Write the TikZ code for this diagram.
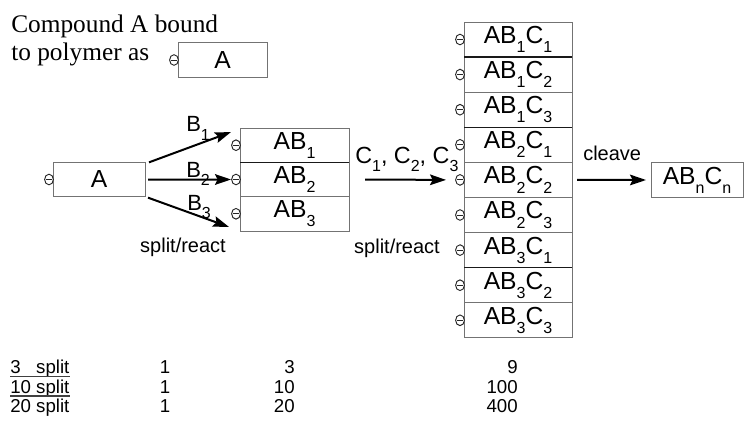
\documentclass[tikz,border=0pt]{standalone}
\usepackage{fontspec}
\setmainfont{Liberation Serif}
\setsansfont{Liberation Sans}
\usetikzlibrary{positioning, calc, arrows.meta}
\tikzstyle{cell}=[draw=black!55, line width=0.6pt, fill=white, inner sep=0pt, outer sep=0pt,
  font=\sffamily\fontsize{18.5}{20}\selectfont, minimum height=34.3*0.75pt]
\tikzstyle{bead}=[draw=black!85, line width=0.7pt, fill=white]
\tikzstyle{darkRule}=[draw=black!90, line width=0.9pt]
\tikzstyle{underRule}=[draw=black!75, line width=0.8pt]
\tikzstyle{arrow}=[-{Stealth[length=12pt, width=8pt, inset=2pt]}, line width=1.5pt, draw=black]
\tikzstyle{intro}=[font=\rmfamily\fontsize{19}{21}\selectfont, inner sep=0pt]
\tikzstyle{lbl}=[font=\sffamily\fontsize{16.5}{18}\selectfont, inner sep=0pt]
\tikzstyle{small}=[font=\sffamily\fontsize{15}{17}\selectfont, inner sep=0pt]
\tikzstyle{tbl}=[font=\sffamily\fontsize{14}{16}\selectfont, inner sep=0pt]
\newcommand{\lo}[1]{\raisebox{-0.7ex}{\fontsize{12}{12}\selectfont #1}}

\begin{document}
\begin{tikzpicture}[x=0.75pt, y=-0.75pt]
  \useasboundingbox (0,0) rectangle (745,431);

  % how the compound sits on the polymer
  \node[intro, anchor=base west] (introA) at (11,33) {Compound A bound};
  \node[intro, anchor=base west] (introB) at (11,61) {to polymer as};
  \node[cell, minimum width=89*0.75pt] (smallA) at (222.5,60) {A};

  % first split
  \node[cell, minimum width=92*0.75pt] (bigA) at (99,179.5) {A};
  \node[cell, minimum width=109*0.75pt] (ab1) at (294.5,145.2) {AB\lo{1}};
  \node[cell, minimum width=109*0.75pt, below=0pt of ab1] (ab2) {AB\lo{2}};
  \node[cell, minimum width=109*0.75pt, below=0pt of ab2] (ab3) {AB\lo{3}};

  % second split
  \foreach \b in {1,2,3} {
    \foreach \c in {1,2,3} {
      \pgfmathsetmacro{\row}{3*(\b-1)+\c-1}
      \node[cell, minimum width=108*0.75pt, minimum height=35.1*0.75pt] (abc\b\c)
        at (518,39.5+35.1*\row) {AB\lo{\b}C\lo{\c}};
    }
  }
  \node[cell, minimum width=92*0.75pt, minimum height=35*0.75pt] (abncn) at (697,180) {AB\lo{n}C\lo{n}};

  \draw[darkRule] (ab1.south west) -- (ab1.south east);
  \draw[darkRule] (abc11.south west) -- (abc11.south east);
  \draw[darkRule] (abc13.south west) -- (abc13.south east);
  \draw[darkRule] (abc31.south west) -- (abc31.south east);

  % polymer beads
  \foreach \n in {smallA, bigA, ab1, ab2, ab3, abc11, abc12, abc13, abc21, abc22, abc23, abc31, abc32, abc33} {
    \filldraw[bead] ($(\n.west)+(-4,0)$) ellipse (3.3pt and 4pt);
    \draw[bead] ($(\n.west)+(-7,0)$) -- ($(\n.west)+(-1,0)$);
  }

  % reactions
  \draw[arrow] ($(bigA.north east)+(4,0)$) -- ($(ab1.north west)+(-9,4)$);
  \draw[arrow] ($(bigA.east)+(3,0)$) -- ($(ab2.west)+(-9,0)$);
  \draw[arrow] ($(bigA.south east)+(3,1)$) -- ($(ab3.south west)+(-11,-4)$);
  \draw[arrow] ($(ab2.east)+(16,0)$) -- ($(abc22.west)+(-18,0)$);
  \draw[arrow] ($(abc22.east)+(5,0)$) -- ($(abncn.west)+(-5,0)$);

  \node[lbl, anchor=base west] (b1) at (186,132) {B\lo{1}};
  \node[lbl, anchor=base west] (b2) at (186,177) {B\lo{2}};
  \node[lbl, anchor=base west] (b3) at (187,210) {B\lo{3}};
  \node[lbl, font=\sffamily\fontsize{17.5}{20}\selectfont, anchor=base west] (cs) at (355,163) {C\lo{1}, C\lo{2}, C\lo{3}};
  \node[small, anchor=base] (split1) at (183,252) {split/react};
  \node[small, anchor=base] (split2) at (397,253) {split/react};
  \node[small, anchor=base west] (cleave) at (583,161) {cleave};

  % counts
  \foreach \lab/\n/\m [count=\i] in {{3\hphantom{0} split}/3/9, {10 split}/10/100, {20 split}/20/400} {
    \node[tbl, anchor=base west] (row\i) at (10,354+19.5*\i) {\lab};
    \node[tbl, anchor=base] (one\i) at (165,354+19.5*\i) {1};
    \node[tbl, anchor=base east] (first\i) at (295,354+19.5*\i) {\n};
    \node[tbl, anchor=base east] (second\i) at (518,354+19.5*\i) {\m};
  }
  \draw[underRule] ($(row1.base west)+(0,3)$) -- ($(row1.base east)+(0,3)$);
  \draw[underRule] ($(row2.base west)+(0,3)$) -- ($(row2.base east)+(0,3)$);
\end{tikzpicture}
\end{document}
